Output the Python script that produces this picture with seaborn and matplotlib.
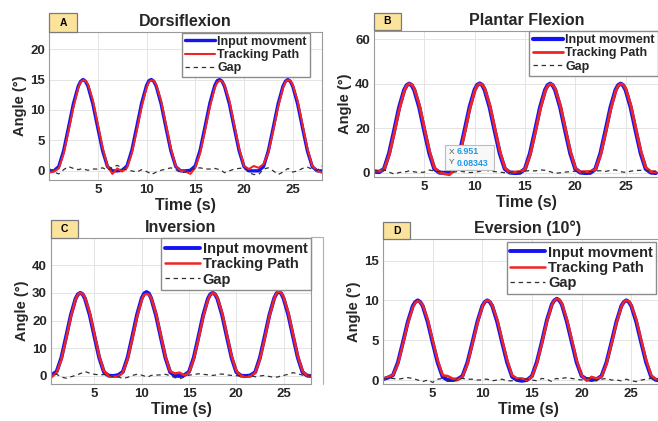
import numpy as np
import matplotlib
matplotlib.use("Agg")
import matplotlib.pyplot as plt
from matplotlib.patches import Rectangle
from matplotlib.lines import Line2D
import seaborn as sns

# sample times (s), denser around each peak
time_s = [0, 0.5, 1, 1.5, 2, 2.5, 3, 3.25, 3.5, 3.75, 4, 4.5, 5, 5.5, 6, 6.5,
          7, 7.5, 8, 8.5, 9, 9.5, 10, 10.25, 10.5, 10.75, 11, 11.5, 12, 12.5, 13, 13.5,
          14, 14.5, 15, 15.5, 16, 16.5, 17, 17.25, 17.5, 17.75, 18, 18.5, 19, 19.5, 20, 20.5,
          21, 21.5, 22, 22.5, 23, 23.5, 24, 24.25, 24.5, 24.75, 25, 25.5, 26, 26.5, 27, 27.5,
          28]

# A - Dorsiflexion
dorsi_input = [0.0, 0.0, 0.7, 3.3, 7.1, 11.0, 13.9, 14.7, 15.0, 14.7, 13.9, 11.0, 7.1, 3.3, 0.7, 0.0,
               0.0, 0.1, 0.8, 3.4, 7.2, 11.1, 14.0, 14.8, 15.0, 14.7, 13.9, 11.0, 7.1, 3.3, 0.7, 0.0,
               0.0, 0.1, 0.8, 3.4, 7.2, 11.1, 14.0, 14.8, 15.0, 14.7, 13.9, 11.0, 7.1, 3.3, 0.7, 0.0,
               0.0, 0.0, 0.7, 3.3, 7.1, 11.0, 13.9, 14.7, 15.0, 14.7, 13.9, 11.0, 7.1, 3.3, 0.7, 0.0,
               0.0]
dorsi_track = [-0.3, -0.1, 0.4, 2.8, 6.5, 10.4, 13.6, 14.6, 14.9, 14.8, 14.2, 11.6, 7.7, 3.8, 0.8, -0.5,
               0.4, -0.1, 0.5, 2.9, 6.6, 10.5, 13.6, 14.6, 14.9, 14.8, 14.1, 11.5, 7.6, 3.7, 0.8, 0.0,
               -0.1, -0.5, 0.5, 2.9, 6.6, 10.5, 13.6, 14.5, 14.8, 14.7, 14.1, 11.5, 7.6, 3.7, 0.8, 0.3,
               0.8, 0.5, 1.1, 3.0, 6.6, 10.5, 13.6, 14.6, 14.9, 14.8, 14.1, 11.5, 7.6, 3.7, 0.8, 0.0,
               -0.3]
dorsi_gap = [0.4, -0.2, -0.5, 0.2, 0.7, 0.4, 0.2, 0.3, 0.3, 0.2, 0.1, 0.3, 0.3, 0.5, 0.1, 0.6,
             0.9, 0.5, 0.1, 0.0, -0.2, 0.2, -0.1, -0.3, -0.6, -0.4, -0.2, 0.1, 0.3, 0.5, 0.2, -0.3,
             -0.2, 0.2, 0.4, 0.5, 0.3, 0.3, 0.4, 0.3, 0.2, 0.0, -0.3, 0.0, 0.3, 0.4, 0.5, -0.3,
             -0.6, -0.6, 0.3, 0.5, 0.0, -0.6, -0.2, 0.1, 0.4, 0.2, -0.2, 0.0, 0.4, 0.6, 0.3, 0.1,
             0.8]

# B - Plantar Flexion
plantar_input = [0.6, 0.4, 1.8, 8.8, 18.9, 29.4, 37.2, 39.3, 40.0, 39.3, 37.2, 29.4, 18.9, 8.8, 1.8, 0.2,
                 0.0, 0.1, 1.9, 8.9, 19.0, 29.5, 37.3, 39.4, 40.1, 39.4, 37.2, 29.3, 18.8, 8.7, 1.8, 0.2,
                 0.0, 0.1, 1.8, 8.8, 18.9, 29.4, 37.2, 39.3, 40.0, 39.3, 37.2, 29.4, 18.9, 8.8, 1.8, 0.2,
                 0.0, 0.1, 1.8, 8.8, 18.9, 29.4, 37.2, 39.3, 40.0, 39.3, 37.2, 29.4, 18.9, 8.8, 1.8, 0.2,
                 0.0]
plantar_track = [1.0, 0.8, 1.5, 7.9, 17.6, 28.2, 36.6, 39.1, 40.0, 39.6, 37.9, 30.6, 20.3, 10.0, 2.4, 0.3,
                 -0.4, -0.8, 1.3, 7.9, 17.7, 28.3, 36.7, 39.1, 40.0, 39.6, 37.9, 30.5, 20.2, 9.9, 2.3, 0.3,
                 0.4, 0.6, 1.6, 7.9, 17.6, 28.2, 36.6, 39.0, 39.9, 39.5, 37.8, 30.5, 20.2, 9.9, 2.3, 0.4,
                 0.6, 0.7, 1.6, 7.9, 17.6, 28.2, 36.6, 39.0, 39.9, 39.6, 37.9, 30.6, 20.3, 10.0, 2.5, 0.6,
                 0.4]
plantar_gap = [1.2, 0.7, 1.4, 0.4, -0.5, 0.2, 0.5, 0.6, 1.0, 0.8, 0.5, 0.2, 0.4, 1.3, 0.9, 0.6,
               1.0, 0.7, 0.4, 0.9, 0.5, 0.2, 0.3, 0.5, 0.7, 1.1, 1.4, 0.8, 0.6, 0.4, 0.1, 0.3,
               0.6, 0.4, 0.8, 1.1, 0.9, 1.4, 1.2, 0.8, 0.6, 0.2, -0.2, 0.1, 0.4, 0.6, 0.8, 0.5,
               0.4, 0.6, 0.9, 1.0, 0.7, 1.2, 1.4, 1.0, 0.6, 0.4, 0.3, 0.8, 1.1, 1.2, 1.3, 0.7,
               0.8]

# C - Inversion
inv_input = [0.2, 0.4, 1.6, 6.6, 14.2, 22.0, 27.9, 29.5, 30.0, 29.5, 27.9, 22.0, 14.2, 6.6, 1.4, 0.1,
             0.0, 0.3, 1.5, 6.6, 14.2, 22.1, 28.1, 29.8, 30.3, 29.8, 28.0, 22.0, 14.2, 6.6, 1.4, 0.1,
             0.0, 0.3, 1.5, 6.6, 14.2, 22.0, 27.9, 29.5, 30.0, 29.5, 27.9, 22.0, 14.2, 6.6, 1.4, 0.1,
             0.0, 0.2, 1.4, 6.6, 14.2, 22.0, 28.0, 29.8, 30.4, 29.8, 28.0, 22.1, 14.3, 6.7, 1.4, 0.1,
             0.0]
inv_track = [-0.8, -0.3, 1.2, 6.0, 13.4, 21.4, 27.6, 29.4, 30.0, 29.6, 28.3, 22.8, 15.0, 7.2, 1.8, 0.0,
             -0.3, -0.2, 1.2, 6.0, 13.4, 21.3, 27.5, 29.3, 29.6, 29.4, 28.2, 22.7, 14.9, 7.1, 1.7, 0.9,
             1.2, 0.2, 1.2, 6.0, 13.4, 21.3, 27.4, 29.3, 29.9, 29.6, 28.3, 22.8, 15.0, 7.2, 1.8, 0.0,
             -0.1, -0.2, 1.2, 6.0, 13.4, 21.5, 27.8, 29.8, 30.5, 30.0, 28.5, 22.9, 15.1, 7.3, 1.8, 0.1,
             0.0]
inv_gap = [0.3, 0.8, 0.6, -0.4, -0.8, -0.3, 0.2, 0.5, 0.9, 1.1, 1.6, 1.0, 0.6, 0.4, 0.5, 0.3,
           -0.2, -0.3, -0.9, -0.5, 0.2, 0.6, 0.3, 0.0, -0.3, -0.2, 0.2, 0.3, 0.4, 0.6, 0.1, -0.6,
           -1.0, -0.4, 0.3, 0.5, 0.8, 0.6, 0.4, 0.3, 0.2, 0.3, 0.6, 0.7, 0.4, 0.2, 0.1, 0.0,
           0.2, 0.1, -0.3, 0.0, 0.2, -0.2, -0.5, -0.4, -0.3, 0.3, 0.2, 0.6, 1.2, 0.8, 0.3, 0.0,
           0.1]

# D - Eversion (10°)
ev_input = [0.1, 0.3, 0.6, 2.2, 4.7, 7.3, 9.3, 9.8, 10.0, 9.8, 9.3, 7.3, 4.7, 2.2, 0.4, 0.0,
            0.0, 0.1, 0.5, 2.2, 4.7, 7.3, 9.3, 9.8, 10.0, 9.8, 9.3, 7.3, 4.7, 2.2, 0.4, 0.0,
            -0.1, 0.0, 0.5, 2.3, 4.8, 7.5, 9.5, 10.0, 10.2, 10.0, 9.5, 7.4, 4.8, 2.2, 0.5, 0.1,
            0.0, 0.1, 0.5, 2.2, 4.7, 7.3, 9.3, 9.8, 10.0, 9.8, 9.3, 7.3, 4.7, 2.2, 0.4, 0.0,
            0.0]
ev_track = [0.1, 0.4, 0.6, 2.0, 4.5, 7.1, 9.1, 9.7, 9.9, 9.8, 9.4, 7.6, 5.0, 2.5, 0.6, 0.5,
            0.2, 0.0, 0.4, 2.0, 4.5, 7.1, 9.2, 9.8, 10.0, 9.9, 9.4, 7.6, 5.0, 2.5, 0.6, 0.2,
            0.2, 0.0, 0.4, 2.1, 4.6, 7.3, 9.4, 10.0, 10.2, 10.1, 9.6, 7.7, 5.1, 2.5, 0.6, -0.1,
            0.4, 0.2, 0.4, 2.0, 4.5, 7.1, 9.2, 9.8, 10.0, 9.9, 9.4, 7.6, 5.0, 2.5, 0.6, 0.1,
            0.0]
ev_gap = [0.1, 0.2, 0.2, 0.1, 0.2, 0.3, 0.2, 0.1, 0.0, -0.1, -0.2, 0.0, -0.3, 0.1, 0.2, 0.0,
          -0.2, 0.1, 0.2, 0.1, 0.1, 0.0, 0.0, 0.1, 0.1, 0.0, -0.1, 0.0, 0.1, -0.1, -0.1, 0.0,
          0.2, 0.1, 0.0, -0.1, 0.2, 0.1, -0.2, 0.1, 0.2, 0.1, 0.2, 0.3, 0.2, 0.1, 0.0, 0.3,
          0.2, -0.1, 0.1, 0.2, 0.0, 0.0, -0.1, 0.0, 0.1, 0.0, -0.1, -0.2, 0.0, 0.1, 0.2, 0.1,
          0.2]

titles = ["Dorsiflexion", "Plantar Flexion", "Inversion", "Eversion (10°)"]
letters = ["A", "B", "C", "D"]
legend_labels = ["Input movment", "Tracking Path", "Gap"]

sns.set_style("white")
plt.rcParams["font.family"] = ["Liberation Sans", "DejaVu Sans"]

W, H = 658, 421
fig = plt.figure(figsize=(W / 100, H / 100), dpi=100)


def px_axes(x0, y0, x1, y1):
    # pixel box (top-left origin) -> figure axes
    return fig.add_axes([x0 / W, 1 - y1 / H, (x1 - x0) / W, (y1 - y0) / H])


def px_rect(x0, y0, x1, y1, **kw):
    fig.add_artist(Rectangle((x0 / W, 1 - y1 / H), (x1 - x0) / W, (y1 - y0) / H,
                             transform=fig.transFigure, **kw))


def letter_box(x0, y0, x1, y1, letter):
    px_rect(x0, y0, x1, y1, facecolor="#fce39b", edgecolor="#7a7a7a", linewidth=0.9)
    fig.text((x0 + x1) / 2 / W, 1 - (y0 + y1) / 2 / H, letter, ha="center", va="center",
             fontsize=7.5, fontweight="bold", color="black")


panels = [
    dict(box=(49, 32, 322, 180), xlim=(0, 28), ylim=(-1.5, 22.8), yticks=[0, 5, 10, 15, 20],
         data=(dorsi_input, dorsi_track, dorsi_gap), lbox=(49, 13, 77, 32),
         leg=(0.956, 0.995), lw=(2.4, 1.5), fs=9.0),
    dict(box=(374, 31, 679, 177), xlim=(0, 30.3), ylim=(-1.8, 63.6), yticks=[0, 20, 40, 60],
         data=(plantar_input, plantar_track, plantar_gap), lbox=(374, 13, 401, 30),
         leg=(0.93, 1.0), lw=(3.0, 2.0), fs=9.0),
    dict(box=(51, 238, 311, 384), xlim=(0.4, 27.9), ylim=(-2.9, 49.8), yticks=[0, 10, 20, 30, 40],
         data=(inv_input, inv_track, inv_gap), lbox=(51, 220, 78, 238),
         leg=(1.0, 1.0), lw=(2.8, 1.8), fs=10.5),
    dict(box=(383, 239, 673, 384), xlim=(0, 29.2), ylim=(-0.5, 17.7), yticks=[0, 5, 10, 15],
         data=(ev_input, ev_track, ev_gap), lbox=(383, 222, 410, 239),
         leg=(0.943, 0.98), lw=(2.8, 1.8), fs=10.5),
]

for i, p in enumerate(panels):
    ax = px_axes(*p["box"])
    inp, trk, gap = p["data"]
    sns.lineplot(x=time_s, y=inp, ax=ax, color="#1414f0", linewidth=p["lw"][0],
                 label=legend_labels[0], sort=False)
    sns.lineplot(x=time_s, y=trk, ax=ax, color="#f02424", linewidth=p["lw"][1],
                 label=legend_labels[1], sort=False)
    sns.lineplot(x=time_s, y=gap, ax=ax, color="#303030", linewidth=0.9,
                 linestyle=(0, (3.5, 3)), label=legend_labels[2], sort=False)

    ax.set_xlim(*p["xlim"])
    ax.set_ylim(*p["ylim"])
    ax.set_xticks([5, 10, 15, 20, 25])
    ax.set_yticks(p["yticks"])
    ax.grid(True, color="#e4e4e4", linewidth=0.7)
    for s in ax.spines.values():
        s.set_color("#9a9a9a")
        s.set_linewidth(0.8)
    ax.tick_params(direction="in", length=3, color="#9a9a9a", labelcolor="#262626",
                   labelsize=9.5, pad=3)
    for lab in ax.get_xticklabels() + ax.get_yticklabels():
        lab.set_fontweight("bold")
    ax.set_title(titles[i], fontsize=11.5, fontweight="bold", pad=4)
    ax.set_xlabel("Time (s)", fontsize=11.5, fontweight="bold", labelpad=1)
    ax.set_ylabel("Angle (°)", fontsize=10.5, fontweight="bold", labelpad=2)
    ax.legend(loc="upper right", bbox_to_anchor=p["leg"], frameon=True, fancybox=False,
              edgecolor="#8c8c8c", framealpha=1, borderaxespad=0,
              prop={"weight": "bold", "size": p["fs"]}, handlelength=2.4,
              handletextpad=0.2, labelspacing=0.1, borderpad=0.25)
    letter_box(*p["lbox"], letters[i])

# stray frame to the right of panel C
fig.add_artist(Line2D([311 / W, 323 / W, 323 / W], [1 - 237 / H, 1 - 237 / H, 1 - 384 / H],
                      transform=fig.transFigure, color="#b0b0b0", linewidth=0.8))

# data tip in panel B
px_rect(445, 145, 494, 170, facecolor="#f8f8f8", edgecolor="#bcbcbc", linewidth=0.8, zorder=5)
fig.text(449 / W, 1 - 157.5 / H, "X\nY", color="#555555", fontsize=6, ha="left", va="center",
         linespacing=1.5, zorder=6)
fig.text(457 / W, 1 - 157.5 / H, "6.951\n0.08343", color="#1b9ae4", fontsize=6.3,
         fontweight="bold", ha="left", va="center", linespacing=1.4, zorder=6)

fig.savefig("out.png", dpi=100)
